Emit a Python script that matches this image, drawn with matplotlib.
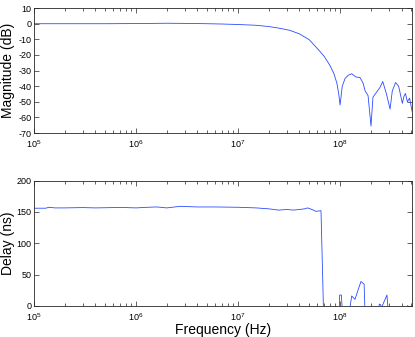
import numpy as np
import matplotlib
matplotlib.use("Agg")
import matplotlib.pyplot as plt
import matplotlib.ticker as ticker

# ── Data ───────────────────────────────────────────────────────────────────────
mag_freq = [1e5, 2e5, 5e5, 1e6, 2e6, 3e6, 5e6, 7e6, 1e7, 1.5e7, 2e7, 2.5e7,
            3.2e7, 4e7, 5e7, 6.4e7, 7e7, 7.5e7, 8e7, 8.7e7, 9.3e7, 9.7e7,
            1e8, 1.05e8, 1.12e8, 1.2e8, 1.3e8, 1.42e8, 1.57e8, 1.68e8,
            1.76e8, 1.88e8, 2.01e8, 2.1e8, 2.29e8, 2.45e8, 2.62e8, 2.85e8,
            3.09e8, 3.25e8, 3.5e8, 3.75e8, 4.08e8, 4.2e8, 4.37e8, 4.57e8,
            4.8e8, 5.08e8]
mag_db = [0, 0, 0, 0.1, 0.3, 0.2, 0, -0.2, -0.5, -1, -1.8, -2.8,
          -4.2, -6.5, -10.3, -18, -21, -24, -27, -32, -38, -45,
          -52, -40, -35, -33, -32, -34, -34.5, -38,
          -43, -46, -65.5, -47, -43.6, -41, -37, -45,
          -54.6, -43, -37.6, -40, -51, -47, -44.6, -50,
          -47.6, -56]

del_freq = [1e5, 1.3e5, 1.4e5, 1.6e5, 2e5, 3e5, 4e5, 6e5, 8e5, 1e6, 1.3e6,
            1.6e6, 2e6, 2.7e6, 4e6, 6e6, 1e7, 1.5e7, 2e7, 2.5e7, 3e7, 3.5e7,
            4e7, 4.5e7, 4.8e7, 5.3e7, 5.8e7, 6.5e7, 6.86e7, 7.2e7, 9.8e7,
            9.9e7, 1.03e8, 1.07e8, 1.18e8, 1.3e8, 1.4e8, 1.6e8, 1.72e8,
            1.77e8, 2.38e8, 2.42e8, 2.5e8, 2.55e8, 2.62e8, 2.88e8, 3.0e8,
            4.5e8, 4.6e8, 4.7e8, 5.08e8]
del_ns = [156, 156, 157.5, 156.5, 156.5, 157, 156.5, 157, 157, 156.5, 157.5,
          158, 156.5, 159, 158, 158, 157.5, 156.5, 155, 153, 154, 153,
          154, 155, 156.5, 154, 151, 152, 0, -30, -30,
          17.5, 17.5, -30, -30, 16, 10.7, 39, 35,
          -30, -30, 3, 2, -5, 2, 17.5, -20,
          -20, 1, -20, -20]

# ── Style ──────────────────────────────────────────────────────────────────────
plt.rcParams["font.family"] = ["Liberation Sans", "DejaVu Sans"]
plt.rcParams["axes.unicode_minus"] = False

fig = plt.figure(figsize=(4.15, 3.37), dpi=100)
ax1 = fig.add_axes([0.082, 0.605, 0.911, 0.371])
ax2 = fig.add_axes([0.082, 0.092, 0.911, 0.372])

def style(ax):
    ax.set_xscale("log")
    ax.set_xlim(1e5, 5.08e8)
    ax.xaxis.set_major_locator(ticker.LogLocator(base=10, numticks=10))
    ax.xaxis.set_minor_locator(ticker.LogLocator(base=10, subs=np.arange(2, 10), numticks=20))
    ax.xaxis.set_minor_formatter(ticker.NullFormatter())
    ax.tick_params(which="both", direction="in", top=True, right=True,
                   labelsize=6.5, width=0.5, colors="#262626", labelcolor="black", pad=2)
    ax.tick_params(axis="x", which="both", pad=4)
    ax.tick_params(which="major", length=3.5)
    ax.tick_params(which="minor", length=2)
    for s in ax.spines.values():
        s.set_linewidth(0.6)
        s.set_color("#262626")

ax1.plot(mag_freq, mag_db, color="#2a4bff", linewidth=0.6)
style(ax1)
ax1.set_ylim(-70, 10)
ax1.set_yticks(np.arange(-70, 11, 10))
ax1.set_ylabel("Magnitude (dB)", fontsize=10)
ax1.yaxis.set_label_coords(-0.05, 0.5)

ax2.plot(del_freq, del_ns, color="#2a4bff", linewidth=0.6)
style(ax2)
ax2.set_ylim(0, 200)
ax2.set_yticks([0, 50, 100, 150, 200])
ax2.set_ylabel("Delay (ns)", fontsize=10)
ax2.yaxis.set_label_coords(-0.05, 0.5)
ax2.set_xlabel("Frequency (Hz)", fontsize=10, labelpad=0)

fig.savefig("out.png", dpi=100)
